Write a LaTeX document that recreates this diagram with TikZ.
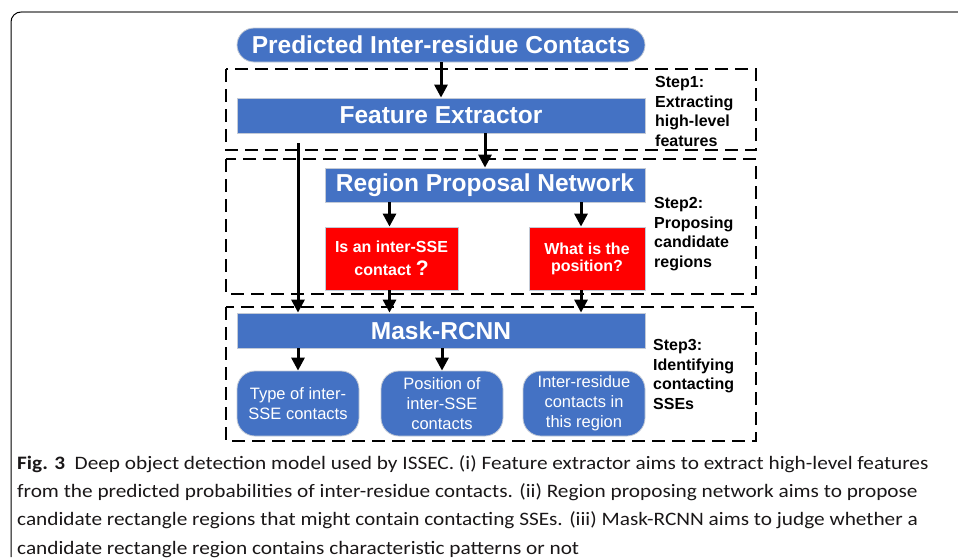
\documentclass[tikz,border=0pt]{standalone}
\usepackage{fontspec}
\setmainfont{Liberation Sans}
\newfontfamily\capfont[FakeStretch=1.12]{Carlito}
\usetikzlibrary{arrows.meta}
\definecolor{blockc}{HTML}{4472C4}
\definecolor{alertc}{HTML}{FF0000}
\definecolor{rimc}{HTML}{C3CAD6}
\definecolor{framec}{HTML}{7F7F7F}
\definecolor{inkc}{HTML}{1A1718}

\begin{document}
\begin{tikzpicture}[x=1pt, y=-1pt,
    block/.style={fill=blockc, draw=rimc, line width=0.8pt, text=white, inner sep=0pt,
      font=\bfseries\fontsize{24.5}{28}\selectfont},
    query/.style={fill=alertc, draw=rimc, line width=0.8pt, text=white, inner sep=0pt,
      align=center, minimum height=63pt, font=\bfseries\fontsize{16}{20}\selectfont},
    result/.style={fill=blockc, draw=rimc, line width=0.8pt, text=white, inner sep=0pt,
      rounded corners=18pt, align=center, minimum width=122pt, minimum height=65pt,
      font=\fontsize{16.5}{20}\selectfont},
    stage/.style={draw, line width=2pt, dash pattern=on 13pt off 7pt},
    steplabel/.style={anchor=north west, align=left, inner sep=0pt,
      font=\bfseries\fontsize{16}{19.7}\selectfont},
    flow/.style={-{Triangle[length=13pt,width=13pt]}, line width=3pt}]
    \useasboundingbox (0,0) rectangle (958,557);
    \draw[framec, line width=1.5pt] (958,12) -- (21,12);
    \draw[line width=1pt, rounded corners=10pt] (21,12) -- (11,12) -- (11,557);
    \draw[stage] (226,69) rectangle (756,150);
    \draw[stage] (226,159) rectangle (756,294);
    \draw[stage] (226,307) rectangle (756,441);
    \node[block, rounded corners=17pt, minimum width=408pt, minimum height=34pt] (contacts) at (441,45) {Predicted Inter-residue Contacts};
    \node[block, minimum width=408pt, minimum height=35pt] (extractor) at (441,115.5) {Feature Extractor};
    \node[block, minimum width=320pt, minimum height=34pt] (rpn) at (485,185) {Region Proposal Network};
    \node[query, minimum width=133pt] (isssc) at (391.5,258.5) {Is an inter-SSE\\[3pt]contact {\fontsize{21}{20}\selectfont ?}};
    \node[query, minimum width=116pt] (where) at (587,258.5) {\raisebox{-3pt}{What is the}\\position?};
    \node[block, minimum width=408pt, minimum height=35pt] (mask) at (441,330.5) {Mask-RCNN};
    \node[result] (sstype) at (298,403.5) {Type of inter-\\SSE contacts};
    \node[result] (sspos) at (442,403.5) {Position of\\inter-SSE\\contacts};
    \node[result] (ssres) at (584,403.5) {Inter-residue\\contacts in\\this region};
    \node[steplabel] (step1) at (655,76) {Step1:\\Extracting\\high-level\\features};
    \node[steplabel] (step2) at (654,197) {Step2:\\Proposing\\candidate\\regions};
    \node[steplabel] (step3) at (653,339) {Step3:\\Identifying\\contacting\\SSEs};
    \draw[flow] (contacts) -- (extractor);
    \draw[flow] (extractor.south -| rpn.north) -- (rpn.north);
    \draw[flow] ([yshift=-10pt]extractor.south -| sstype.north) -- (mask.north -| sstype.north);
    \draw[flow] ([xshift=-2pt]rpn.south -| isssc.north) -- ([xshift=-2pt]isssc.north);
    \draw[flow] ([xshift=-6pt]rpn.south -| where.north) -- ([xshift=-6pt]where.north);
    \draw[flow] ([xshift=-2pt]isssc.south) -- ([xshift=-2pt]mask.north -| isssc.south);
    \draw[flow] ([xshift=-6pt]where.south) -- ([xshift=-6pt]mask.north -| where.south);
    \draw[flow] (mask.south -| sstype.north) -- (sstype.north);
    \draw[flow] (mask.south -| sspos.north) -- (sspos.north);
    \node[anchor=north west, align=left, inner sep=0pt, text=inkc,
      font=\capfont\fontsize{19}{28.3}\selectfont] (caption) at (17,455)
      {\textbf{Fig. 3}\enspace Deep object detection model used by ISSEC. (i) Feature extractor aims to extract high-level features\\
       from the predicted probabilities of inter-residue contacts. (ii) Region proposing network aims to propose\\
       candidate rectangle regions that might contain contacting SSEs. (iii) Mask-RCNN aims to judge whether a\\
       candidate rectangle region contains characteristic patterns or not};
\end{tikzpicture}
\end{document}
